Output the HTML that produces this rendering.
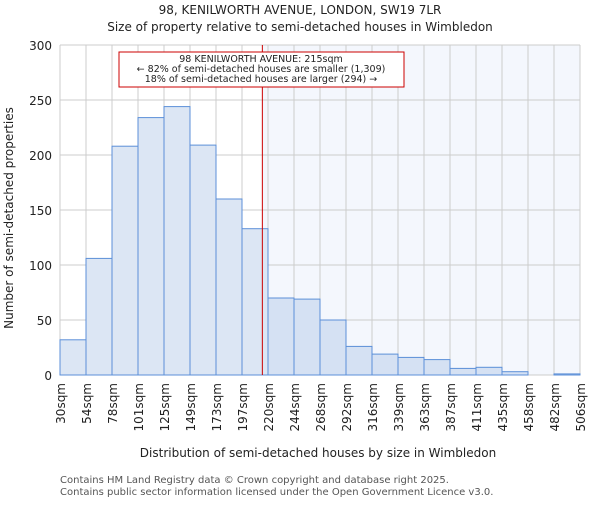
<!DOCTYPE html>
<html><head><meta charset="utf-8"><style>
body{margin:0;background:#fff;}
svg text{font-family:"DejaVu Sans","Liberation Sans",sans-serif;fill:#222;}
</style></head><body>
<svg id="chart" width="600" height="500" xmlns="http://www.w3.org/2000/svg">
<text x="300" y="14" text-anchor="middle" font-size="12">98, KENILWORTH AVENUE, LONDON, SW19 7LR</text>
<text x="300" y="31" text-anchor="middle" font-size="12">Size of property relative to semi-detached houses in Wimbledon</text>
<g id="plot"></g>
<text x="318" y="457" text-anchor="middle" font-size="12">Distribution of semi-detached houses by size in Wimbledon</text>
<text transform="translate(13,218) rotate(-90)" text-anchor="middle" font-size="12">Number of semi-detached properties</text>
<text x="60" y="483" font-size="10" fill="#555" style="fill:#555">Contains HM Land Registry data © Crown copyright and database right 2025.</text>
<text x="60" y="495" font-size="10" style="fill:#555">Contains public sector information licensed under the Open Government Licence v3.0.</text>
</svg>
<script>
const binLabels=["30sqm","54sqm","78sqm","101sqm","125sqm","149sqm","173sqm","197sqm","220sqm","244sqm","268sqm","292sqm","316sqm","339sqm","363sqm","387sqm","411sqm","435sqm","458sqm","482sqm","506sqm"];
const binEdges=[30,54,78,101,125,149,173,197,220,244,268,292,316,339,363,387,411,435,458,482,506];
const counts=[32,106,208,234,244,209,160,133,70,69,50,26,19,16,14,6,7,3,0,1];
const yTicks=[0,50,100,150,200,250,300];
const subjectSize=215;
const NS="http://www.w3.org/2000/svg";
const L=60,R=580,T=45,B=375,yMax=300;
const nb=counts.length;
const xIdx=i=>L+(R-L)*i/nb;
function xVal(v){for(let i=0;i<binEdges.length-1;i++){if(v<=binEdges[i+1])return xIdx(i)+(v-binEdges[i])/(binEdges[i+1]-binEdges[i])*(R-L)/nb;}return R;}
const y=v=>B-(B-T)*v/yMax;
const g=document.getElementById('plot');
function mk(t,a){const e=document.createElementNS(NS,t);for(const k in a)e.setAttribute(k,a[k]);g.appendChild(e);return e;}
const sx=xVal(subjectSize);
let bg=mk('rect',{x:sx,y:T,width:R-sx,height:B-T,fill:'#f4f7fd'});


yTicks.forEach(t=>{const l=mk('line',{x1:L,x2:R,y1:y(t),y2:y(t),stroke:'#cccccc'});


const tx=mk('text',{x:L-8,y:y(t)+5,'text-anchor':'end','font-size':12});tx.textContent=t;

});
binLabels.forEach((lab,i)=>{const x=xIdx(i);const l=mk('line',{x1:x,x2:x,y1:T,y2:B,stroke:'#cccccc'});


const tx=mk('text',{transform:`translate(${x+5},${B+8}) rotate(-90)`,'text-anchor':'end','font-size':12});tx.textContent=lab;

});
counts.forEach((c,i)=>{const x0=xIdx(i),x1=xIdx(i+1);const right=binEdges[i]>=subjectSize;
const r=mk('rect',{x:x0,y:y(c),width:x1-x0,height:B-y(c),fill:right?'#d5e1f3':'#dce6f4',stroke:'#5b8fd8','stroke-width':1});

});
const rl=mk('line',{x1:sx,x2:sx,y1:T,y2:B,stroke:'#cc0000','stroke-width':1});


const box=mk('rect',{x:119,y:52,width:285,height:35,fill:'#fff',stroke:'#cc0000','stroke-width':1});


["98 KENILWORTH AVENUE: 215sqm","← 82% of semi-detached houses are smaller (1,309)","18% of semi-detached houses are larger (294) →"].forEach((s,i)=>{
const t=mk('text',{x:261,y:62+i*10,'text-anchor':'middle','font-size':9.5});t.textContent=s;

});
</script>
</body></html>
